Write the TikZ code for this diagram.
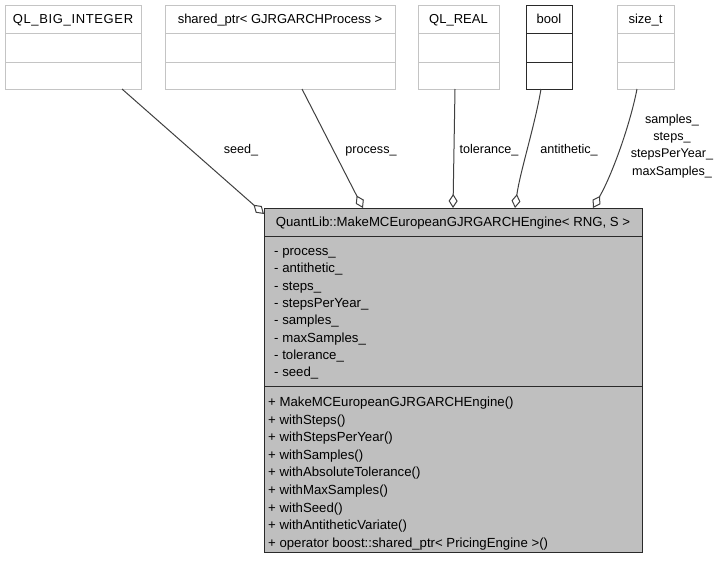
\documentclass[tikz,border=0pt]{standalone}
\usepackage{fontspec}
\setmainfont{Liberation Sans}
\usetikzlibrary{arrows.meta}
\definecolor{lightframe}{HTML}{C4C4C4}
\definecolor{classfill}{HTML}{BFBFBF}
\definecolor{edgegray}{HTML}{404040}
\definecolor{darkframe}{HTML}{2A2A2A}

% member type box: name, left x, width, frame colour, caption
\newcommand{\typebox}[5]{%
  \node[typeframe, draw=#4, minimum width=#3] (#1) at (#2,5) {};
  \node[anchor=base, font=\fontsize{13}{15}\selectfont] (#1-name) at ([yshift=-18.5pt]#1.north) {#5};
  \draw[#4, line width=1pt] ([yshift=-28pt]#1.north west) -- ([yshift=-28pt]#1.north east);
  \draw[#4, line width=1pt] ([yshift=-57pt]#1.north west) -- ([yshift=-57pt]#1.north east);
}

\begin{document}
\begin{tikzpicture}[x=1pt, y=-1pt,
  font=\fontsize{13.2}{15}\selectfont,
  typeframe/.style={line width=1pt, fill=white, minimum height=84pt,
    inner sep=0pt, outer sep=0pt, anchor=north west},
  member/.style={anchor=base west, inner sep=0pt},
  aggr/.style={draw=edgegray, line width=1pt,
    -{Diamond[open, fill=white, length=14pt, width=9pt]}},
  edgelabel/.style={anchor=base, inner sep=0pt, align=center,
    font=\fontsize{12.6}{17.3}\selectfont}]
\useasboundingbox (0,0) rectangle (723,560);

% member types
\typebox{bigint}{5}{136pt}{lightframe}{\addfontfeature{LetterSpace=5}QL\_BIG\_INTEGER}
\typebox{procptr}{165}{230pt}{lightframe}{shared\_ptr< GJRGARCHProcess >}
\typebox{real}{418}{81pt}{lightframe}{QL\_REAL}
\typebox{boolean}{526}{46pt}{darkframe}{bool}
\typebox{sizet}{617}{57pt}{lightframe}{size\_t}

% the engine builder class
\node[draw=darkframe, fill=classfill, line width=1pt, minimum width=378pt,
  minimum height=344pt, inner sep=0pt, outer sep=0pt, anchor=north west]
  (main) at (264,208) {};
\node[anchor=base] (main-name) at ([yshift=-18.5pt]main.north)
  {QuantLib::MakeMCEuropeanGJRGARCHEngine< RNG, S >};
\draw[darkframe, line width=1pt] ([yshift=-28pt]main.north west) -- ([yshift=-28pt]main.north east);
\draw[darkframe, line width=1pt] ([yshift=-178pt]main.north west) -- ([yshift=-178pt]main.north east);

% attributes
\foreach \t [count=\i from 0] in {- process\_, - antithetic\_, - steps\_,
  - stepsPerYear\_, - samples\_, - maxSamples\_, - tolerance\_, - seed\_}
  \node[member] (attr\i) at (274, 255.5+17.3*\i) {\t};

% operations
\foreach \t [count=\i from 0] in {+ MakeMCEuropeanGJRGARCHEngine(), + withSteps(),
  + withStepsPerYear(), + withSamples(), + withAbsoluteTolerance(),
  + withMaxSamples(), + withSeed(), + withAntitheticVariate(),
  + operator boost::shared\_ptr< PricingEngine >()}
  \node[member] (op\i) at (268, 406.5+17.6*\i) {\t};

% aggregation edges
\draw[aggr] ([xshift=49pt]bigint.south) -- ([yshift=-6pt]main.north west);
\draw[aggr] ([xshift=22pt]procptr.south) -- ([xshift=99pt]main.north west);
\draw[aggr] ([xshift=-3.5pt]real.south) -- ([xshift=189pt]main.north west);
\draw[aggr] ([xshift=-8pt]boolean.south) .. controls (535,125) and (520,172) .. ([xshift=251pt]main.north west);
\draw[aggr] ([xshift=-8.5pt]sizet.south) .. controls (630,125) and (612,175) .. ([xshift=329pt]main.north west);

% edge labels
\node[edgelabel] (lseed) at (241,153.5) {seed\_};
\node[edgelabel] (lproc) at (371,153.5) {process\_};
\node[edgelabel] (ltol) at (489,153.5) {tolerance\_};
\node[edgelabel] (lanti) at (569,153.5) {antithetic\_};
\node[edgelabel, anchor=north] (lsize) at (672,114)
  {samples\_\\steps\_\\stepsPerYear\_\\maxSamples\_};
\end{tikzpicture}
\end{document}
